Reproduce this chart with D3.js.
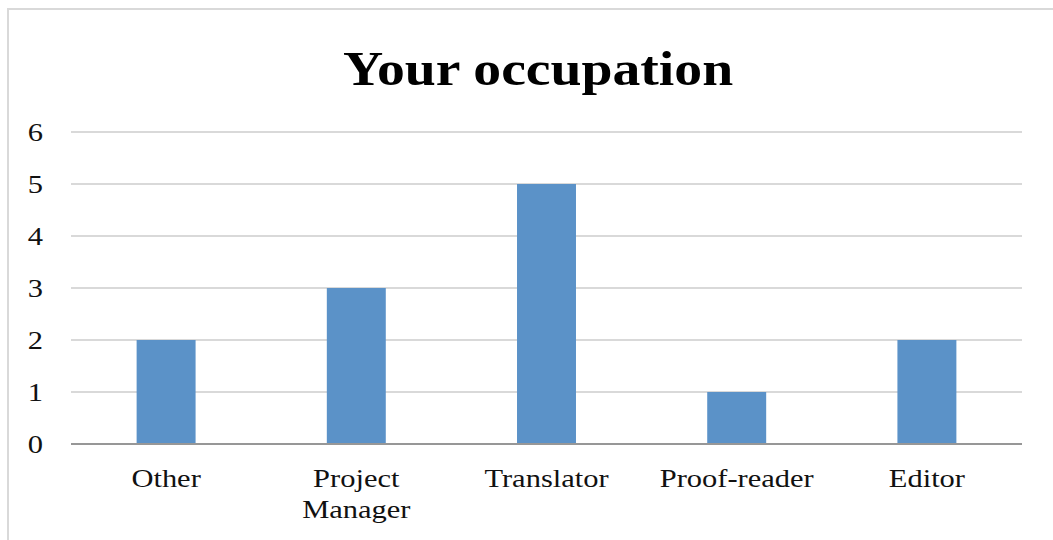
<!DOCTYPE html>
<html>
<head>
<meta charset="utf-8">
<script src="https://cdn.jsdelivr.net/npm/d3@7"></script>
<style>
  html, body { margin: 0; padding: 0; background: #fff; }
  svg { display: block; }
</style>
</head>
<body>
<div id="chart"></div>
<script>
var categories = ["Other", "Project Manager", "Translator", "Proof-reader", "Editor"];
var counts = [2, 3, 5, 1, 2];
var yTicks = [0, 1, 2, 3, 4, 5, 6];
var chartTitle = "Your occupation";

var W = 1053, H = 540;
var margin = {top: 132, right: 31, bottom: 96, left: 71};
var font = "'Liberation Serif', 'Times New Roman', serif";
var stretch = 1.22; // the source text is a bit wider than normal

var svg = d3.select("#chart").append("svg")
	.attr("width", W)
	.attr("height", H);

// outer frame
svg.append("rect")
	.attr("x", 8).attr("y", 9)
	.attr("width", W + 20).attr("height", H + 20)
	.attr("fill", "none")
	.attr("stroke", "#d9d9d9")
	.attr("stroke-width", 2);

var width = W - margin.left - margin.right,
	height = H - margin.top - margin.bottom;

var g = svg.append("g").attr("transform", "translate(" + margin.left + "," + margin.top + ")");

var x = d3.scaleBand()
	.domain(categories)
	.range([0, width])
	.paddingInner(0.69)
	.paddingOuter(0.345);

var y = d3.scaleLinear()
	.domain([0, 6])
	.range([height, 0]);

// gridlines
g.selectAll("line.grid")
	.data(yTicks.filter(function(d) { return d > 0; }))
	.enter().append("line")
	.attr("class", "grid")
	.attr("x1", 0).attr("x2", width)
	.attr("y1", function(d) { return y(d); })
	.attr("y2", function(d) { return y(d); })
	.attr("stroke", "#d9d9d9")
	.attr("stroke-width", 2);

// bars
g.selectAll("rect.bar")
	.data(counts)
	.enter().append("rect")
	.attr("class", "bar")
	.attr("x", function(d, i) { return x(categories[i]); })
	.attr("width", x.bandwidth())
	.attr("y", function(d) { return y(d); })
	.attr("height", function(d) { return height - y(d); })
	.attr("fill", "#5b92c8");

// baseline
g.append("line")
	.attr("x1", 0).attr("x2", width)
	.attr("y1", y(0)).attr("y2", y(0))
	.attr("stroke", "#979797")
	.attr("stroke-width", 2);

// y axis labels
var yAxis = g.append("g")
	.call(d3.axisLeft(y).tickValues(yTicks).tickSize(0).tickPadding(28 / stretch).tickFormat(d3.format("d")));
yAxis.select(".domain").remove();
yAxis.selectAll("text")
	.attr("transform", "scale(" + stretch + ",1)")
	.attr("font-family", font)
	.attr("font-size", 25)
	.attr("fill", "#111");

// x axis labels, wrapped
var xAxis = g.append("g")
	.attr("transform", "translate(0," + height + ")")
	.call(d3.axisBottom(x).tickSize(0).tickPadding(0));
xAxis.select(".domain").remove();
xAxis.selectAll("text").each(function(d) {
	var t = d3.select(this).text(null)
		.attr("transform", "scale(" + stretch + ",1)")
		.attr("font-family", font)
		.attr("font-size", 25)
		.attr("fill", "#111")
		.attr("y", 43)
		.attr("dy", null);
	var words = d === "Project Manager" ? ["Project", "Manager"] : [d];
	words.forEach(function(w, i) {
		t.append("tspan").attr("x", 0).attr("dy", i === 0 ? 0 : 31).text(w);
	});
});

// title
svg.append("text")
	.attr("transform", "translate(538,85) scale(1.16,1)")
	.attr("text-anchor", "middle")
	.attr("font-family", font)
	.attr("font-weight", "bold")
	.attr("font-size", 48)
	.attr("fill", "#000")
	.text(chartTitle);
</script>
</body>
</html>
